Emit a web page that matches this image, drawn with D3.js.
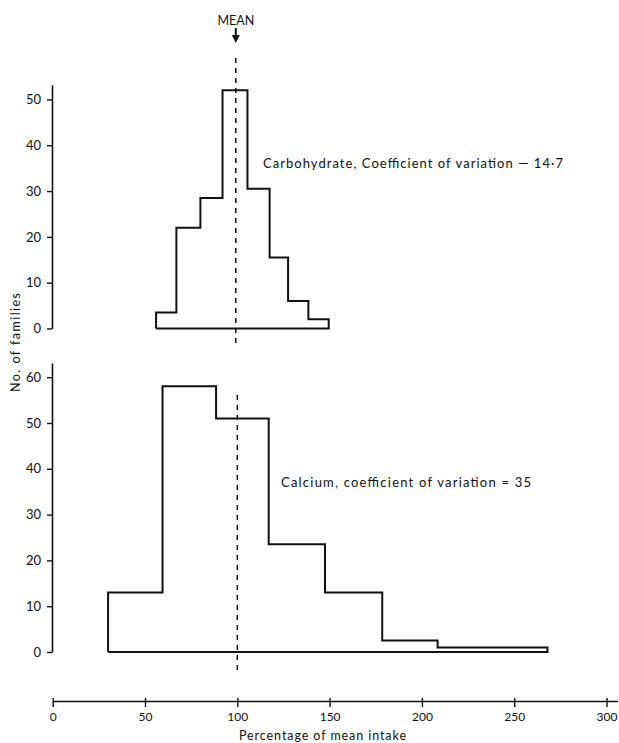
<!DOCTYPE html>
<html>
<head>
<meta charset="utf-8">
<script src="https://cdn.jsdelivr.net/npm/d3@7"></script>
<style>
  html, body { margin: 0; padding: 0; background: #fff; }
  svg { display: block; }
  text { font-family: Lato, "Open Sans", sans-serif; fill: #111; }
</style>
</head>
<body>
<svg id="chart" width="619" height="743"></svg>
<script>
// ---- data ----
const xTicks = [0, 50, 100, 150, 200, 250, 300];
const carbEdges = [56, 67, 80, 92, 105.5, 117.5, 127.5, 138.5, 149.5];
const carbCounts = [3.5, 22, 28.5, 52, 30.5, 15.5, 6, 2];
const calcEdges = [30, 59.5, 88.5, 117, 147.5, 178.5, 208.5, 268];
const calcCounts = [13, 58, 51, 23.5, 13, 2.5, 1];
const carbYTicks = [0, 10, 20, 30, 40, 50];
const calcYTicks = [0, 10, 20, 30, 40, 50, 60];
const meanValue = 100;
const carbLabel = "Carbohydrate, Coefficient of variation \u2014 14\u00B77";
const calcLabel = "Calcium, coefficient of variation = 35";
const xLabel = "Percentage of mean intake";
const yLabel = "No. of families";

// ---- layout ----
const svg = d3.select("#chart");
const x = d3.scaleLinear().domain([0, 306]).range([52.7, 617.6]);
const yTop = d3.scaleLinear().domain([0, 53.2]).range([328.5, 84.8]);
const yBot = d3.scaleLinear().domain([0, 63.1]).range([652, 363]);

function styleAxis(g, size) {
  g.selectAll("path.domain").attr("stroke", "#111").attr("stroke-width", 1.6);
  g.selectAll(".tick line").attr("stroke", "#111").attr("stroke-width", 1.4);
  g.selectAll(".tick text").style("font-family", "Lato, 'Open Sans', sans-serif")
    .style("font-size", size).attr("fill", "#111");
}

// y axes
const gTop = svg.append("g").attr("transform", "translate(52,0)")
  .call(d3.axisLeft(yTop).tickValues(carbYTicks).tickSize(5).tickSizeOuter(0).tickPadding(6));
styleAxis(gTop, "13px");
const gBot = svg.append("g").attr("transform", "translate(52,0)")
  .call(d3.axisLeft(yBot).tickValues(calcYTicks).tickSize(5).tickSizeOuter(0).tickPadding(6));
styleAxis(gBot, "13px");

// x axis
const gX = svg.append("g").attr("transform", "translate(0,701)")
  .call(d3.axisBottom(x).tickValues(xTicks).tickSize(6).tickSizeOuter(0).tickPadding(5));
styleAxis(gX, "12px");
gX.selectAll(".tick line").attr("y1", -3);

// histograms as closed step outlines
function stepPoints(edges, counts) {
  const pts = [[edges[0], 0]];
  counts.forEach((c, i) => { pts.push([edges[i], c]); pts.push([edges[i + 1], c]); });
  pts.push([edges[edges.length - 1], 0]);
  pts.push([edges[0], 0]);
  return pts;
}
svg.append("path")
  .attr("d", d3.line().x(d => x(d[0])).y(d => yTop(d[1]))(stepPoints(carbEdges, carbCounts)))
  .attr("fill", "none").attr("stroke", "#111").attr("stroke-width", 2).attr("stroke-linejoin", "miter");
svg.append("path")
  .attr("d", d3.line().x(d => x(d[0])).y(d => yBot(d[1]))(stepPoints(calcEdges, calcCounts)))
  .attr("fill", "none").attr("stroke", "#111").attr("stroke-width", 2).attr("stroke-linejoin", "miter");

// mean dashed lines
const mx = x(meanValue) - 1.5;
svg.append("line").attr("x1", mx).attr("x2", mx).attr("y1", 58).attr("y2", 343)
  .attr("stroke", "#111").attr("stroke-width", 1.5).attr("stroke-dasharray", "5,5");
svg.append("line").attr("x1", x(meanValue)).attr("x2", x(meanValue)).attr("y1", 395).attr("y2", 673)
  .attr("stroke", "#111").attr("stroke-width", 1.5).attr("stroke-dasharray", "5,5");

// MEAN marker
svg.append("text").attr("x", mx).attr("y", 25).attr("text-anchor", "middle")
  .style("font-size", "12.5px").text("MEAN");
svg.append("line").attr("x1", mx).attr("x2", mx).attr("y1", 28).attr("y2", 37)
  .attr("stroke", "#111").attr("stroke-width", 2);
svg.append("path").attr("d", `M${mx - 4},35 L${mx + 4},35 L${mx},43 Z`).attr("fill", "#111");

// labels (stretched to match the reference's wide letter spacing)
svg.append("text").attr("x", 263).attr("y", 168).style("font-size", "13px")
  .attr("textLength", 300).attr("lengthAdjust", "spacing").text(carbLabel);
svg.append("text").attr("x", 281).attr("y", 487).style("font-size", "13px")
  .attr("textLength", 250).attr("lengthAdjust", "spacing").text(calcLabel);
svg.append("text").attr("x", 239).attr("y", 740).style("font-size", "12.5px")
  .attr("textLength", 167).attr("lengthAdjust", "spacing").text(xLabel);
svg.append("text").attr("transform", "translate(20,392) rotate(-90)")
  .style("font-size", "12.5px").attr("textLength", 99).attr("lengthAdjust", "spacing").text(yLabel);
</script>
</body>
</html>
